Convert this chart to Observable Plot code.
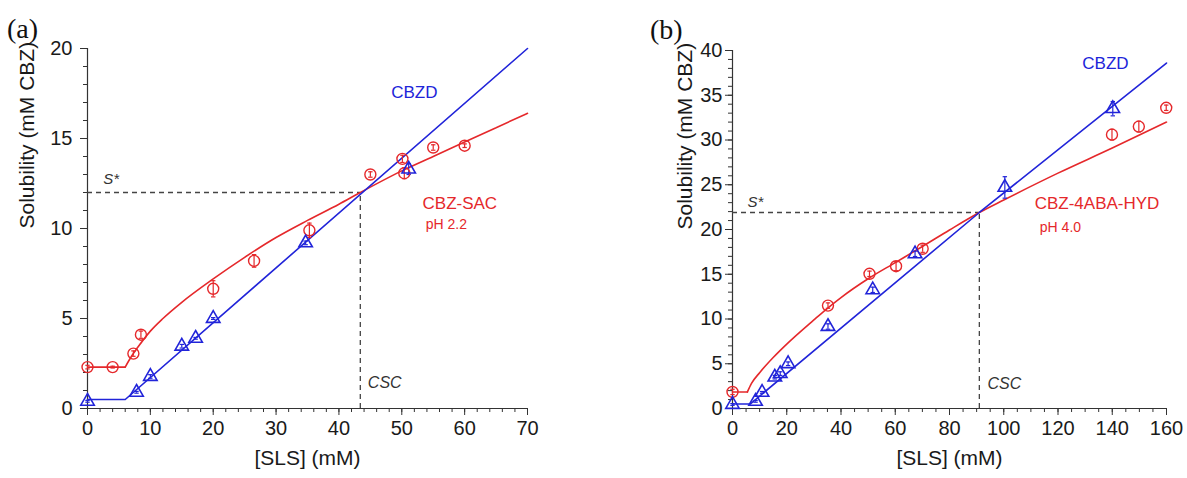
<!DOCTYPE html>
<html><head><meta charset="utf-8">
<script src="https://cdn.jsdelivr.net/npm/d3@7"></script>
<script src="https://cdn.jsdelivr.net/npm/@observablehq/plot@0.6"></script>
<style>
body{margin:0;background:#fff;}
#wrap{position:relative;width:1187px;height:478px;overflow:hidden;background:#fff;}
.panel{position:absolute;top:0;}
.tag{position:absolute;font-family:"Liberation Serif","Times New Roman",serif;font-size:28px;line-height:1;color:#111;}
</style></head><body>
<div id="wrap">
  <div class="panel" id="pa" style="left:0"></div>
  <div class="panel" id="pb" style="left:593px"></div>
  <div class="tag" style="left:7px;top:15px">(a)</div>
  <div class="tag" style="left:650px;top:16px">(b)</div>
</div>
<script>
// ---------- Panel (a): CBZ-SAC, pH 2.2 ----------
const aSacX   = [0, 4, 7.3, 8.5, 20, 26.5, 35.3, 45, 50.1, 50.4, 55, 60];
const aSacY   = [2.3, 2.3, 3.05, 4.1, 6.65, 8.2, 9.9, 13.0, 13.87, 13.07, 14.5, 14.6];
const aSacErr = [0.1, 0.05, 0.15, 0.2, 0.45, 0.35, 0.4, 0.15, 0.2, 0.3, 0.15, 0.1];
const aCbzdX   = [0, 7.8, 10, 15, 17.2, 20, 34.7, 51.1];
const aCbzdY   = [0.4, 0.9, 1.78, 3.46, 3.9, 5.0, 9.2, 13.3];
const aCbzdErr = [0.05, 0.05, 0.1, 0.1, 0.05, 0.05, 0.1, 0.3];
const aSacFitX = [0, 6, 7, 8, 10, 12, 15, 20, 25, 30, 35, 40, 43.4, 50, 55, 60, 65, 70];
const aSacFitY = [2.3, 2.3, 2.9, 3.4, 4.3, 5.0, 5.9, 7.2, 8.4, 9.5, 10.45, 11.35, 12.0, 13.2, 14.0, 14.8, 15.6, 16.4];
const aCbzdFitX = [0, 6, 70];
const aCbzdFitY = [0.5, 0.5, 20];
const aSStar = 12, aCSC = 43.4;
const aXTicks = [0, 10, 20, 30, 40, 50, 60, 70];
const aYTicks = [0, 5, 10, 15, 20];
const aNotes = [
  {text: "CBZD",    x: 52.0, y: 17.55, color: "blue", size: 17, anchor: "middle", italic: false},
  {text: "CBZ-SAC", x: 53.3, y: 11.4,  color: "red",  size: 17, anchor: "start",  italic: false},
  {text: "pH 2.2",  x: 53.8, y: 10.2,  color: "red",  size: 14, anchor: "start",  italic: false},
  {text: "S*",      x: 2.5,  y: 12.75, color: "dark", size: 15, anchor: "start",  italic: true},
  {text: "CSC",     x: 44.6, y: 1.4,   color: "dark", size: 16, anchor: "start",  italic: true}
];

// ---------- Panel (b): CBZ-4ABA-HYD, pH 4.0 ----------
const bHydX   = [0, 35.2, 50.5, 60.3, 70.1, 139.9, 149.8, 159.9];
const bHydY   = [1.85, 11.5, 15.05, 15.9, 17.85, 30.6, 31.5, 33.6];
const bHydErr = [0.3, 0.3, 0.3, 0.5, 0.4, 0.6, 0.6, 0.3];
const bCbzdX   = [0, 8.5, 10.9, 15.6, 17.6, 20.5, 35.2, 51.7, 67.3, 100.4, 140.2];
const bCbzdY   = [0.45, 0.8, 1.8, 3.5, 3.9, 5.0, 9.16, 13.26, 17.28, 24.7, 33.5];
const bCbzdErr = [0.1, 0.1, 0.1, 0.2, 0.2, 0.2, 0.3, 0.3, 0.3, 1.2, 0.8];
const bHydFitX = [0, 5.5, 7, 10, 15, 20, 30, 35, 40, 50, 60, 70, 80, 91, 100, 120, 140, 160];
const bHydFitY = [1.85, 1.85, 2.8, 4.0, 5.7, 7.2, 9.9, 11.2, 12.4, 14.5, 16.3, 18.1, 19.95, 21.9, 23.3, 26.3, 29.1, 32.0];
const bCbzdFitX = [0, 6.5, 91, 160];
const bCbzdFitY = [0.5, 0.5, 21.9, 38.6];
const bSStar = 21.9, bCSC = 91;
const bXTicks = [0, 20, 40, 60, 80, 100, 120, 140, 160];
const bYTicks = [0, 5, 10, 15, 20, 25, 30, 35, 40];
const bNotes = [
  {text: "CBZD",         x: 137.5, y: 38.5, color: "blue", size: 17, anchor: "middle", italic: false},
  {text: "CBZ-4ABA-HYD", x: 111.4, y: 22.9, color: "red",  size: 17, anchor: "start",  italic: false},
  {text: "pH 4.0",       x: 113.3, y: 20.2, color: "red",  size: 14, anchor: "start",  italic: false},
  {text: "S*",           x: 5.5,   y: 23.0, color: "dark", size: 15, anchor: "start",  italic: true},
  {text: "CSC",          x: 94.0,  y: 2.7,  color: "dark", size: 16, anchor: "start",  italic: true}
];

const COLORS = {red: "#e5282b", blue: "#2124d9", dark: "#333"};
const FONT = "'Liberation Sans', Arial, Helvetica, sans-serif";
const capSymbol = {draw(ctx, size) { const r = Math.sqrt(size / Math.PI); ctx.moveTo(-r, 0); ctx.lineTo(r, 0); }};

function rows(xs, ys, es) { return xs.map((x, i) => ({x, y: ys[i], e: es ? es[i] : 0})); }
function range(a, b, s) { const out = []; for (let v = a; v <= b + 1e-9; v += s) out.push(+v.toFixed(6)); return out; }

function panel(o) {
  const sac = rows(o.rx, o.ry, o.re);
  const cbz = rows(o.bx, o.by, o.be);
  const rFit = rows(o.rfx, o.rfy);
  const bFit = rows(o.bfx, o.bfy);
  const errMarks = (data, color) => [
    Plot.ruleX(data, {x: "x", y1: d => d.y - d.e, y2: d => d.y + d.e, stroke: color, strokeWidth: 1.2}),
    Plot.dot(data, {x: "x", y: d => d.y + d.e, symbol: capSymbol, r: 2.2, fill: "none", stroke: color, strokeWidth: 1.2}),
    Plot.dot(data, {x: "x", y: d => d.y - d.e, symbol: capSymbol, r: 2.2, fill: "none", stroke: color, strokeWidth: 1.2})
  ];
  const notes = o.notes.map(n => Plot.text([n], {
    x: "x", y: "y", text: "text", fill: COLORS[n.color], fontSize: n.size,
    textAnchor: n.anchor, fontStyle: n.italic ? "italic" : "normal", lineAnchor: "middle"
  }));
  return Plot.plot({
    width: o.width, height: 478,
    marginLeft: o.ml, marginRight: o.mr, marginTop: o.mt, marginBottom: 70,
    x: {domain: o.xDomain, label: null}, y: {domain: o.yDomain, label: null},
    style: {fontFamily: FONT, background: "white", color: "#1a1a1a", overflow: "visible"},
    marks: [
      Plot.axisY(o.yMinor, {tickSize: 4, tickFormat: () => "", stroke: "#333", label: null}),
      Plot.axisY(o.yTicks, {tickSize: 7, tickPadding: o.yPad, fontSize: 20, tickFormat: d => String(d), stroke: "#333", fill: "#1a1a1a", label: null}),
      Plot.axisX(o.xMinor, {tickSize: 4, tickFormat: () => "", stroke: "#333", label: null}),
      Plot.axisX(o.xTicks, {tickSize: 7, tickPadding: 5, fontSize: 20, tickFormat: d => String(d), stroke: "#333", fill: "#1a1a1a", label: null}),
      Plot.ruleX([o.xDomain[0]], {y1: o.yDomain[0], y2: o.yDomain[1], stroke: "#333", strokeWidth: 1.2}),
      Plot.ruleY([o.yDomain[0]], {x1: o.xDomain[0], x2: o.xDomain[1], stroke: "#333", strokeWidth: 1.2}),
      Plot.ruleY([o.sStar], {x1: o.xDomain[0], x2: o.csc, stroke: "#444", strokeWidth: 1.3, strokeDasharray: "5,4"}),
      Plot.ruleX([o.csc], {y1: o.yDomain[0], y2: o.sStar, stroke: "#444", strokeWidth: 1.3, strokeDasharray: "5,4"}),
      Plot.line(rFit.slice(0, 2), {x: "x", y: "y", stroke: COLORS.red, strokeWidth: 1.6}),
      Plot.line(rFit.slice(1), {x: "x", y: "y", stroke: COLORS.red, strokeWidth: 1.6, curve: "monotone-x"}),
      Plot.line(bFit, {x: "x", y: "y", stroke: COLORS.blue, strokeWidth: 1.6}),
      ...errMarks(sac, COLORS.red),
      ...errMarks(cbz, COLORS.blue),
      Plot.dot(sac, {x: "x", y: "y", r: 5.5, fill: "none", stroke: COLORS.red, strokeWidth: 1.4}),
      Plot.dot(cbz, {x: "x", y: "y", r: 5, symbol: "triangle", fill: "none", stroke: COLORS.blue, strokeWidth: 1.6}),
      ...notes,
      Plot.text(["[SLS] (mM)"], {text: d => d, frameAnchor: "bottom", dy: 56, fontSize: 21, fill: "#1a1a1a"}),
      Plot.text(["Solubility (mM CBZ)"], {text: d => d, frameAnchor: "left", dx: o.ylabDx, rotate: -90, fontSize: 21, fill: "#1a1a1a"})
    ]
  });
}

document.getElementById("pa").append(panel({
  width: 593, ml: 87, mr: 66, mt: 48, yPad: 8, ylabDx: -60,
  xDomain: [0, 70], yDomain: [0, 20],
  xTicks: aXTicks, yTicks: aYTicks, xMinor: range(0, 70, 2), yMinor: range(0, 20, 1),
  rx: aSacX, ry: aSacY, re: aSacErr, bx: aCbzdX, by: aCbzdY, be: aCbzdErr,
  rfx: aSacFitX, rfy: aSacFitY, bfx: aCbzdFitX, bfy: aCbzdFitY,
  sStar: aSStar, csc: aCSC, notes: aNotes
}));
document.getElementById("pb").append(panel({
  width: 594, ml: 139, mr: 21, mt: 50, yPad: 3, ylabDx: -47,
  xDomain: [0, 160], yDomain: [0, 40],
  xTicks: bXTicks, yTicks: bYTicks, xMinor: range(0, 160, 5), yMinor: range(0, 40, 1),
  rx: bHydX, ry: bHydY, re: bHydErr, bx: bCbzdX, by: bCbzdY, be: bCbzdErr,
  rfx: bHydFitX, rfy: bHydFitY, bfx: bCbzdFitX, bfy: bCbzdFitY,
  sStar: bSStar, csc: bCSC, notes: bNotes
}));
</script></body></html>
